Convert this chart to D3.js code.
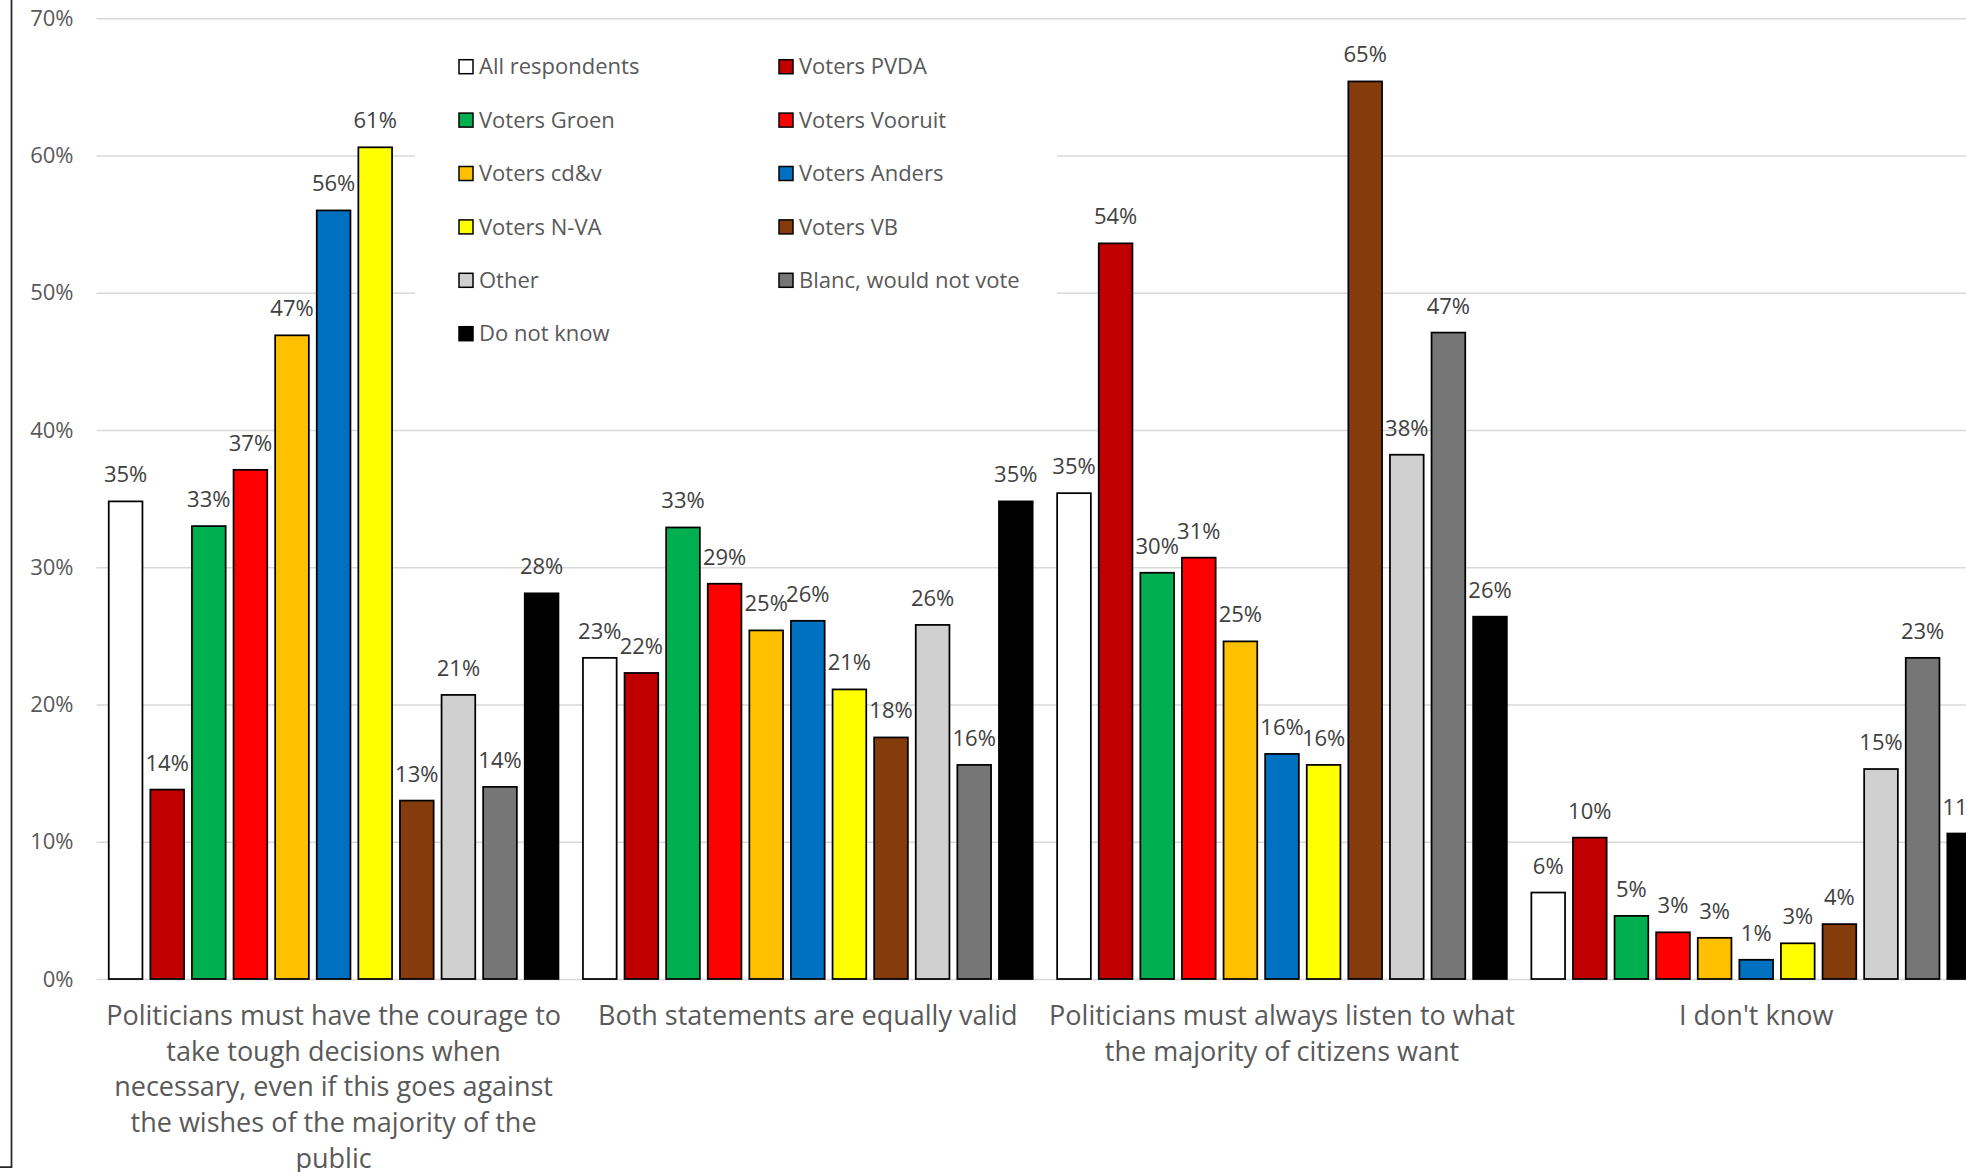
<!DOCTYPE html>
<html>
<head>
<meta charset="utf-8">
<script src="https://cdn.jsdelivr.net/npm/d3@7"></script>
<style>
  html, body { margin: 0; padding: 0; background: #fff; }
  svg { display: block; }
  text { font-family: "Open Sans", "Noto Sans", sans-serif; }
</style>
</head>
<body>
<svg id="chart" width="1966" height="1172"></svg>
<script>
// ---------- DATA ----------
const categories = [
  "Politicians must have the courage to take tough decisions when necessary, even if this goes against the wishes of the majority of the public",
  "Both statements are equally valid",
  "Politicians must always listen to what the majority of citizens want",
  "I don't know"
];
const categoryLines = [
  ["Politicians must have the courage to", "take tough decisions when", "necessary, even if this goes against", "the wishes of the majority of the", "public"],
  ["Both statements are equally valid"],
  ["Politicians must always listen to what", "the majority of citizens want"],
  ["I don't know"]
];
const seriesNames = [
  "All respondents", "Voters PVDA", "Voters Groen", "Voters Vooruit",
  "Voters cd&v", "Voters Anders", "Voters N-VA", "Voters VB",
  "Other", "Blanc, would not vote", "Do not know"
];
const seriesColors = [
  "#FFFFFF", "#C00000", "#00B050", "#FF0000",
  "#FFC000", "#0070C0", "#FFFF00", "#843C0C",
  "#D0D0D0", "#767676", "#000000"
];
// values in percent, one array per series, in category order
const allRespondents = [34.8, 23.4, 35.4, 6.3];
const votersPVDA     = [13.8, 22.3, 53.6, 10.3];
const votersGroen    = [33.0, 32.9, 29.6, 4.6];
const votersVooruit  = [37.1, 28.8, 30.7, 3.4];
const votersCDV      = [46.9, 25.4, 24.6, 3.0];
const votersAnders   = [56.0, 26.1, 16.4, 1.4];
const votersNVA      = [60.6, 21.1, 15.6, 2.6];
const votersVB       = [13.0, 17.6, 65.4, 4.0];
const otherVoters    = [20.7, 25.8, 38.2, 15.3];
const blancVoters    = [14.0, 15.6, 47.1, 23.4];
const doNotKnow      = [28.1, 34.8, 26.4, 10.6];
const yTicks = [0, 10, 20, 30, 40, 50, 60, 70];

const seriesValues = [allRespondents, votersPVDA, votersGroen, votersVooruit,
  votersCDV, votersAnders, votersNVA, votersVB, otherVoters, blancVoters, doNotKnow];

// ---------- LAYOUT ----------
const svg = d3.select("#chart");
const plotLeft = 96.5, catWidth = 474.2;
const plotRight = plotLeft + catWidth * categories.length;
const yTop = 18.3, yBottom = 979;

const x0 = d3.scaleBand().domain(categories).range([plotLeft, plotRight]).paddingInner(0).paddingOuter(0);
const x1 = d3.scaleBand().domain(seriesNames).range([0, x0.bandwidth()]).paddingInner(0.19).paddingOuter(0.2945);
const y = d3.scaleLinear().domain([0, 70]).range([yBottom, yTop]);

// chart frame fragment
svg.append("path")
  .attr("d", `M11.5,0 V1167 H0`)
  .attr("fill", "none").attr("stroke", "#262626").attr("stroke-width", 1.75);

// gridlines + y axis
const yAxis = d3.axisLeft(y).tickValues(yTicks).tickFormat(d => d + "%")
  .tickSize(-(plotRight - plotLeft)).tickPadding(23);
const gy = svg.append("g").attr("transform", `translate(${plotLeft},0)`).call(yAxis);
gy.select(".domain").remove();
gy.selectAll(".tick line").attr("stroke", "#d9d9d9").attr("stroke-width", 1.5);
gy.selectAll(".tick text").attr("fill", "#595959").style("font-size", "22px")
  .style("font-family", "'Open Sans', sans-serif");

// legend (white background hides gridlines)
const legend = svg.append("g");
legend.append("rect").attr("x", 415).attr("y", 32).attr("width", 642).attr("height", 330).attr("fill", "#fff");
seriesNames.forEach((name, i) => {
  const col = i % 2, row = Math.floor(i / 2);
  const lx = col === 0 ? 459 : 779;
  const cy = 66.7 + row * 53.4;
  legend.append("rect").attr("x", lx).attr("y", cy - 7).attr("width", 14).attr("height", 14)
    .attr("fill", seriesColors[i]).attr("stroke", "#000").attr("stroke-width", 1.5);
  legend.append("text").attr("x", lx + 20).attr("y", cy).attr("dy", "0.35em")
    .attr("fill", "#595959").style("font-size", "22px").text(name);
});

// bars
const groups = svg.append("g").selectAll("g").data(categories).join("g")
  .attr("transform", d => `translate(${x0(d)},0)`);

groups.each(function(cat, ci) {
  const g = d3.select(this);
  seriesNames.forEach((s, si) => {
    const v = seriesValues[si][ci];
    g.append("rect")
      .attr("x", x1(s)).attr("y", y(v))
      .attr("width", x1.bandwidth()).attr("height", y(0) - y(v))
      .attr("fill", seriesColors[si]).attr("stroke", "#000").attr("stroke-width", 1.75);
  });
  seriesNames.forEach((s, si) => {
    const v = seriesValues[si][ci];
    g.append("text")
      .attr("x", x1(s) + x1.bandwidth() / 2).attr("y", y(v) - 19)
      .attr("text-anchor", "middle").attr("fill", "#404040")
      .style("font-size", "22px").text(Math.round(v) + "%");
  });
});

// category labels
categories.forEach((c, ci) => {
  const cx = x0(c) + x0.bandwidth() / 2;
  const t = svg.append("text").attr("text-anchor", "middle").attr("fill", "#595959")
    .style("font-size", "27px");
  categoryLines[ci].forEach((line, li) => {
    t.append("tspan").attr("x", cx).attr("y", 1025 + li * 35.7).text(line);
  });
});
</script>
</body>
</html>
